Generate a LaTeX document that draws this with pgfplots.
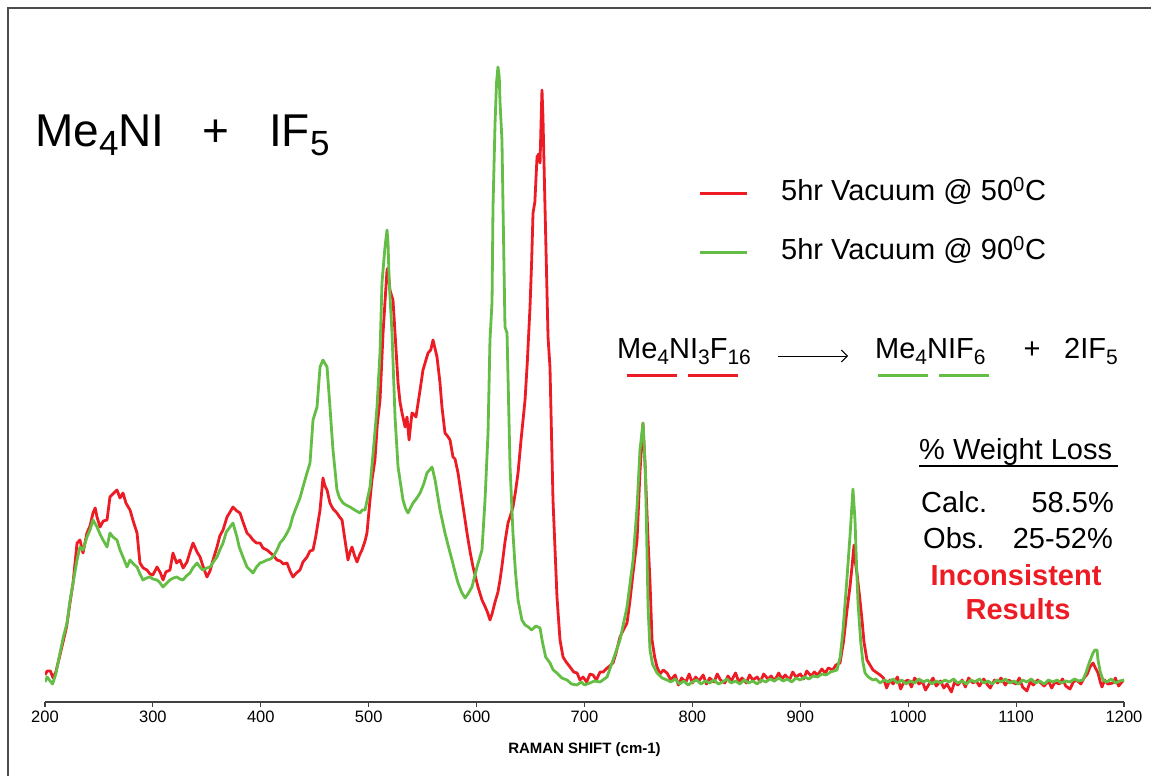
\documentclass[border=0pt]{standalone}
\usepackage{pgfplots}
\pgfplotsset{compat=1.18}
\usepackage{fontspec}
\setmainfont{Liberation Sans}
\usetikzlibrary{arrows.meta}
\definecolor{cred}{RGB}{237,28,36}
\definecolor{cgreen}{RGB}{100,189,69}
\newcommand{\mtxt}[1]{\fontsize{29}{34}\selectfont #1}
\newcommand{\msub}[1]{\raisebox{-6pt}{\fontsize{21}{24}\selectfont #1}}
\newcommand{\bsub}[1]{\raisebox{-9pt}{\fontsize{35}{40}\selectfont #1}}
\begin{document}
\begin{tikzpicture}[x=1pt,y=1pt]
\path[use as bounding box] (0,0) rectangle (1151,776);
\draw[black!70, line width=1.5pt] (8,0) -- (8,768) -- (1151,768);
\begin{axis}[
  at={(45pt,74pt)}, anchor=south west,
  scale only axis, width=1079pt, height=694pt,
  xmin=200, xmax=1200, ymin=0, ymax=694,
  axis x line=bottom, axis y line=none,
  axis line style={-, black!75, line width=1.3pt},
  xtick={200,300,...,1200},
  tick align=outside, major tick length=5pt,
  tick style={black!75, line width=1.1pt},
  xticklabel style={font=\fontsize{16.5}{18}\selectfont, inner sep=0pt, text height=11.8pt, anchor=north, yshift=-4pt},
  /pgf/number format/1000 sep={},
  /pgf/number format/assume math mode=true,
  xlabel={\textbf{RAMAN SHIFT (cm-1)}},
  xlabel style={font=\fontsize{15}{18}\selectfont, at={(axis description cs:0.5,0)}, anchor=base, yshift=-52pt},
  legend style={draw=none, fill=none, at={(0.6052,0.7536)}, anchor=north west, inner sep=0pt,
    row sep=31pt, column sep=33pt, font=\fontsize{29}{34}\selectfont,
    nodes={inner sep=0pt, text height=21pt, text depth=7pt}},
  legend cell align=left,
  legend image code/.code={\draw[#1, line width=3pt] (0pt,0pt) -- (47pt,0pt);},
]
\addplot[cred, line width=2.8pt, line join=round] coordinates {
(200,27)(202,31)(205,31)(207.5,24)(210,30)(213.9,47)(216.7,60)(220,75)(223,98)(226,119)(229.7,159)(232.4,162)(235.2,149)(238.9,169)(241.7,176)(244.5,189)(246.5,194)(248.2,185)(251,175)(254,181)(257.5,182)(260.2,205)(263,208)(266.7,212)(269.5,204)(272.3,209)(275,199)(278.8,192)(282,180)(285.3,169)(288,139)(291,134)(294.5,132)(297.3,128)(300,127)(303.8,135)(307,129)(309.4,122)(312,130)(315.8,132)(318.6,149)(322,139)(325.1,142)(328,134)(331.6,140)(334.4,150)(337.2,159)(340.9,150)(343.7,145)(347,134)(350.1,125)(352.9,131)(355.7,142)(359.4,155)(362,166)(365,172)(368.7,185)(371.5,190)(374.2,195)(377.9,191)(380.7,189)(383.5,180)(387.2,169)(390,166)(392.8,162)(396,159)(399.3,159)(402,154)(405.8,152)(409,149)(411.3,147)(415,142)(418,141)(421,138)(424.3,139)(427.1,131)(429.8,125)(433,129)(436.3,132)(439.1,140)(442.8,145)(445.6,151)(448.4,152)(451,166)(454.9,192)(457.6,224)(459.5,216)(461.4,212)(464.1,199)(467,193)(470.6,189)(473,185)(475.3,182)(478,162)(480.8,142)(482.7,150)(484.5,155)(487,146)(489.2,140)(491.9,148)(493.8,152)(496.6,161)(498.4,169)(501.2,202)(503,222)(505.8,242)(508,278)(510.5,302)(513.3,369)(515.1,400)(517,432)(517.9,434)(519.7,412)(521.6,405)(522.5,402)(524.4,369)(527.2,319)(529,300)(530.9,289)(533.7,275)(535.5,285)(537.4,262)(540.1,289)(541.5,288)(543.8,285)(547.6,312)(550.3,332)(555,349)(557.5,352)(559.6,362)(563.3,345)(566,320)(567.9,295)(570.7,269)(573,266)(575.4,262)(578.1,245)(580,243)(582.8,229)(586.5,202)(588.5,188)(591.1,169)(594,150)(596.7,135)(601.3,115)(605,102)(608,95)(610,90)(612.4,82)(614.3,88)(617.1,100)(619.8,110)(621.7,122)(624,140)(626.3,160)(629.1,179)(631,185)(633.7,195)(636,210)(638.4,229)(641,260)(644.9,302)(647,340)(649.5,395)(651,440)(652.3,489)(654,500)(656,545)(657.5,548)(658.8,539)(660,590)(660.6,612)(661.5,585)(663.4,495)(666.2,365)(668,335)(670.8,202)(674.5,105)(677.3,62)(680.1,45)(683,40)(686.6,35)(690,30)(693.1,29)(695.8,22)(698.6,25)(702,20)(705.1,28)(707.9,27)(711,22)(714.4,30)(717.2,30)(720.9,34)(723.6,36)(726.4,39)(729,48)(732.9,65)(736,72)(739.4,79)(742,100)(745,129)(748.7,162)(751.4,230)(754.2,279)(756,240)(758.9,162)(760.7,120)(762.6,62)(765,45)(767.2,35)(770,28)(773,32)(776.5,29)
(780,22)(784,27)(787,17)(790,24)(794,20)(797,28)(800,19)(803,25)(806,21)(810,27)(813,18)(816,24)(820,20)(823,28)(826,22)(830,19)(833,26)(836,21)(840,29)(843,20)(846,24)(850,19)(853,27)(856,22)(860,25)(863,20)(866,28)(870,23)(873,26)(876,21)(880,29)(883,23)(886,27)(890,22)(893,30)(896,25)(900,28)(903,23)(906,31)(910,26)(913,30)(916,27)(920,33)(923,29)(926,34)(930,32)(933,37)
(936.8,39)(940,60)(943.3,92)(946,115)(947.9,135)(949.8,157)(951,140)(952.5,129)(955,105)(957.2,82)(959,60)(961.8,42)(964,38)(967.4,32)(970,30)(974,27)(977,24)(980,14)(983,22)(986,18)(990,25)(993,13)(996,20)(1000,22)(1003,15)(1006,24)(1010,18)(1013,21)(1016,12)(1020,19)(1023,24)(1026,16)(1030,21)(1033,14)(1036,18)(1040,10)(1043,20)(1046,17)(1050,22)(1053,15)(1056,24)(1060,19)(1063,21)(1066,16)(1070,23)(1073,18)(1076,14)(1080,22)(1083,19)(1086,24)(1090,17)(1093,22)(1096,20)(1100,18)(1103,24)(1106,15)(1110,11)(1113,20)(1116,17)(1120,22)(1123,19)(1126,16)(1130,21)(1133,14)(1136,20)(1140,18)(1143,23)(1146,16)(1150,13)(1153,20)(1156,22)(1160,18)(1163,24)(1166,28)(1168.5,35)(1171.3,39)(1173.5,34)(1175.9,29)(1178,20)(1179.6,15)(1182,22)(1185,18)(1189.8,19)(1192,24)(1195,16)(1198,20)(1200,22)
};
\addlegendentry{5hr Vacuum @ 50\textsuperscript{0}C}
\addplot[cgreen, line width=2.8pt, line join=round] coordinates {
(200,20)(202,25)(204,22)(207,18)(210,28)(213.9,49)(217,65)(220.4,79)(223,100)(226,119)(229.7,142)(232.4,155)(235.2,152)(238.9,165)(241.7,172)(244.5,182)(248.2,175)(251,168)(253.8,162)(257.5,155)(260.2,169)(263,165)(266.7,162)(269.5,152)(272.3,145)(276,135)(278.8,142)(282,138)(285.3,135)(288,128)(290.8,122)(294,124)(297.3,125)(300,123)(303.8,122)(306,120)(309.4,115)(312,118)(315.8,122)(319,124)(322.3,125)(325,123)(327.9,122)(331,126)(334.4,129)(337,134)(340.9,139)(343.6,135)(346.4,132)(350,134)(352.9,135)(356,140)(359.4,145)(362,152)(365,159)(368,170)(371.5,175)(374.2,179)(377.9,165)(380,155)(383.5,145)(387.2,135)(390,132)(392.8,129)(396,135)(399.3,139)(402,140)(405.8,142)(409,143)(411.3,145)(415,152)(417.8,159)(421,163)(424.3,169)(427,175)(429.8,186)(433,195)(436.3,204)(439.1,215)(442.8,229)(445.6,239)(448.4,282)(452.1,295)(454.9,335)(457.6,342)(461.4,335)(464.1,295)(466.9,252)(470.6,212)(473,204)(476.2,199)(479,197)(482.7,195)(487,192)(491.9,189)(494,192)(496.6,192)(501.2,215)(505,260)(507.7,295)(510.5,350)(512.3,419)(515.1,455)(517,472)(517.9,459)(519,420)(521.6,369)(524.4,285)(527.2,235)(531.8,202)(534,194)(536.4,189)(541.1,199)(544,203)(547.6,209)(551,218)(554,229)(558.7,235)(561.5,222)(566.1,192)(570.7,169)(574,155)(577.2,142)(580,130)(582.8,119)(586,110)(589.3,104)(592,108)(595.7,115)(600.4,135)(605,152)(607.8,202)(610.6,269)(612.4,362)(614.3,400)(615.2,495)(617.1,579)(618.5,620)(619.8,635)(621,625)(621.7,600)(623.5,562)(624.5,495)(626.3,375)(628.2,369)(631,235)(633.7,169)(636,130)(638.4,102)(642,82)(644.9,77)(648,75)(651,72)(655,76)(658.8,74)(661,60)(664,45)(668,39)(671,32)(674.5,29)(679,24)(683.8,22)(688,18)(693,17)(697,20)(700,17)(705.1,19)(709,21)(714.4,20)(717,22)(720.9,25)(726.4,42)(732.9,62)(739.4,95)(745,142)(748.7,195)(751.4,252)(754.2,279)(756.5,230)(758.9,95)(760.7,52)(763,38)(767.2,29)(772,24)(776.5,22)
(780,20)(784,23)(788,18)(792,21)(796,17)(800,20)(804,22)(808,18)(812,21)(816,19)(820,22)(824,18)(828,20)(832,23)(836,19)(840,21)(844,18)(848,22)(852,19)(856,21)(860,18)(864,22)(868,20)(872,23)(876,21)(880,24)(884,21)(888,23)(892,20)(896,24)(900,22)(904,25)(908,23)(912,26)(916,25)(920,28)(924,27)(928,30)(931,31)(934,32)
(937,45)(939.6,72)(943,120)(946,165)(948.8,213)(950.7,182)(952,140)(953.5,99)(956,60)(958,40)(960,29)(963,25)(967.4,22)(970,23)(974,19)(978,22)(982,20)(986,23)(990,19)(994,22)(998,18)(1002,21)(1006,19)(1010,23)(1014,20)(1018,22)(1022,18)(1026,21)(1030,19)(1034,22)(1038,20)(1042,23)(1046,19)(1050,21)(1054,18)(1058,22)(1062,20)(1066,23)(1070,19)(1074,21)(1078,18)(1082,22)(1086,20)(1090,23)(1094,19)(1098,21)(1102,18)(1106,22)(1110,20)(1114,23)(1118,19)(1122,21)(1126,18)(1130,22)(1134,20)(1138,22)(1142,19)(1146,21)(1150,20)(1154,23)(1158,21)(1162,22)(1165,30)(1168,40)(1171.3,49)(1173,52)(1175,52)(1175.9,42)(1178,30)(1180.6,22)(1184,20)(1188,23)(1192,19)(1196,21)(1200,22)
};
\addlegendentry{5hr Vacuum @ 90\textsuperscript{0}C}
\end{axis}
% title
\node[anchor=base west, inner sep=0] at (35,629) {\fontsize{46}{50}\selectfont Me\bsub{4}NI};
\node[anchor=base, inner sep=0] at (216,629) {\fontsize{46}{50}\selectfont +};
\node[anchor=base west, inner sep=0] at (269,629) {\fontsize{46}{50}\selectfont IF\bsub{5}};
% reaction
\node[anchor=base west, inner sep=0] at (617,417) {\mtxt{Me\msub{4}NI\msub{3}F\msub{16}}};
\draw[-{Straight Barb[length=6pt,width=12pt]}, line width=0.9pt] (778,420) -- (848,420);
\node[anchor=base west, inner sep=0] at (875,417) {\mtxt{Me\msub{4}NIF\msub{6}}};
\node[anchor=base, inner sep=0] at (1032,417) {\mtxt{+}};
\node[anchor=base west, inner sep=0] at (1064,417) {\mtxt{2IF\msub{5}}};
\draw[cred, line width=3pt] (627,400) -- (677,400) (688,400) -- (738,400);
\draw[cgreen, line width=3pt] (878,400) -- (928,400) (939,400) -- (989,400);
% weight loss
\node[anchor=base west, inner sep=0] at (919,316) {\mtxt{\% Weight Loss}};
\draw[line width=2.5pt] (919,310) -- (1118,310);
\node[anchor=base west, inner sep=0] at (921,263) {\mtxt{Calc.}};
\node[anchor=base east, inner sep=0] at (1114,263) {\mtxt{58.5\%}};
\node[anchor=base west, inner sep=0] at (923,227) {\mtxt{Obs.}};
\node[anchor=base east, inner sep=0] at (1113,227) {\mtxt{25-52\%}};
\node[anchor=base, inner sep=0, text=cred] at (1016,190) {\mtxt{\bfseries Inconsistent}};
\node[anchor=base, inner sep=0, text=cred] at (1018,156) {\mtxt{\bfseries Results}};
\end{tikzpicture}
\end{document}
